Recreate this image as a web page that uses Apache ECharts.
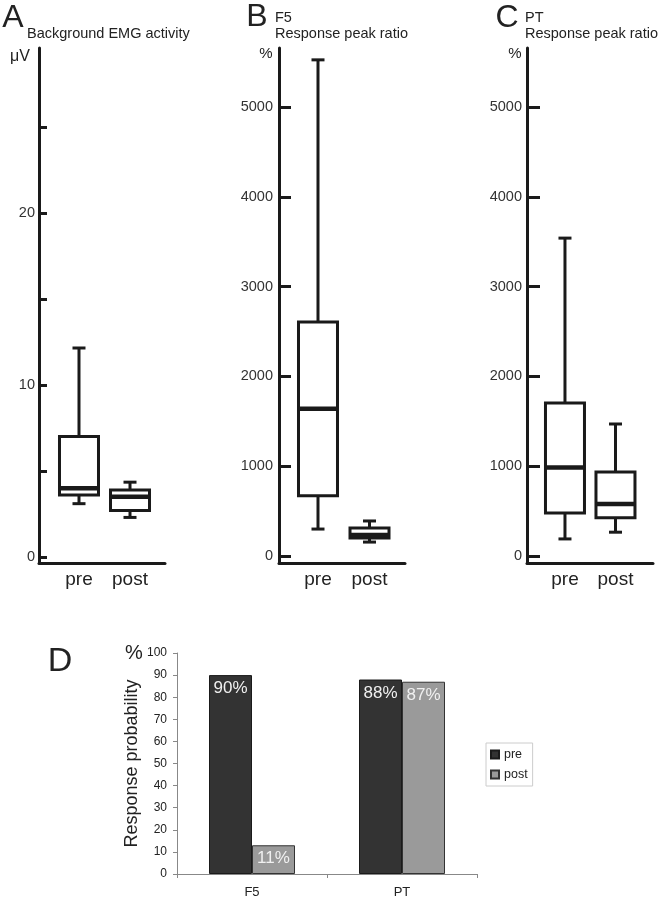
<!DOCTYPE html>
<html>
<head>
<meta charset="utf-8">
<script src="https://cdn.jsdelivr.net/npm/echarts@6/dist/echarts.min.js"></script>
<style>
html,body{margin:0;padding:0;background:#fff;}
#chart{width:659px;height:899px;}
</style>
</head>
<body>
<div id="chart"></div>
<script>
// ---- data ----
const categories = ['pre', 'post'];
// [min, Q1, median, Q3, max]
const emgPre = [3.1, 3.6, 4.0, 7.0, 12.15];
const emgPost = [2.3, 2.7, 3.5, 3.9, 4.35];
const f5Pre = [300, 670, 1640, 2605, 5525];
const f5Post = [155, 200, 235, 312, 390];
const ptPre = [190, 480, 985, 1705, 3540];
const ptPost = [265, 425, 580, 935, 1470];
const emgTicks = [0, 5, 10, 15, 20, 25];
const emgTickLabels = [0, 10, 20];
const ratioTicks = [0, 1000, 2000, 3000, 4000, 5000];
const ratioTickLabels = [0, 1000, 2000, 3000, 4000, 5000];

const probCategories = ['F5', 'PT'];
const probPre = [90, 88];
const probPost = [13, 87];
const probPreLabels = ['90%', '88%'];
const probPostLabels = ['11%', '87%'];
const seriesNames = ['pre', 'post'];

// ---- helpers ----
const INK = '#1a1a1a';
const FONT = '"Liberation Sans", Arial, sans-serif';

function boxRows(pre, post) {
  return [[0].concat(pre), [1].concat(post)];
}

function renderBox(params, api) {
  const x = api.value(0);
  const lo = api.coord([x, api.value(1)]);
  const q1 = api.coord([x, api.value(2)]);
  const md = api.coord([x, api.value(3)]);
  const q3 = api.coord([x, api.value(4)]);
  const hi = api.coord([x, api.value(5)]);
  const bw = 39, cw = 13, cx = lo[0];
  const ls = {stroke: INK, lineWidth: 3, fill: null};
  return {
    type: 'group',
    children: [
      {type: 'line', shape: {x1: cx, y1: hi[1], x2: cx, y2: q3[1]}, style: ls},
      {type: 'line', shape: {x1: cx, y1: q1[1], x2: cx, y2: lo[1]}, style: ls},
      {type: 'line', shape: {x1: cx - cw / 2, y1: hi[1], x2: cx + cw / 2, y2: hi[1]}, style: ls},
      {type: 'line', shape: {x1: cx - cw / 2, y1: lo[1], x2: cx + cw / 2, y2: lo[1]}, style: ls},
      {type: 'rect', shape: {x: cx - bw / 2, y: q3[1], width: bw, height: q1[1] - q3[1]},
        style: {fill: '#fff', stroke: INK, lineWidth: 3}},
      {type: 'line', shape: {x1: cx - bw / 2, y1: md[1], x2: cx + bw / 2, y2: md[1]},
        style: {stroke: INK, lineWidth: 4.5}}
    ]
  };
}

function boxX(idx, min, max) {
  return {
    type: 'value', gridIndex: idx, min: min, max: max,
    axisLine: {show: true, onZero: false, lineStyle: {color: INK, width: 3}},
    axisTick: {show: false},
    splitLine: {show: false},
    axisLabel: {
      show: true, customValues: [0, 1], margin: 7,
      formatter: v => categories[Math.round(v)],
      color: '#222', fontSize: 19, fontFamily: FONT
    }
  };
}

function boxY(idx, min, max, ticks, labels, tickLen, margin) {
  return {
    type: 'value', gridIndex: idx, min: min, max: max,
    axisLine: {show: true, onZero: false, lineStyle: {color: INK, width: 3}},
    axisTick: {show: true, inside: true, length: tickLen, customValues: ticks,
      lineStyle: {color: INK, width: 3}},
    splitLine: {show: false},
    axisLabel: {show: true, customValues: labels, margin: margin,
      formatter: v => String(v), padding: [0, 0, 4, 0],
      color: '#333', fontSize: 14.5, fontFamily: FONT}
  };
}

function txt(text, x, y, size, align) {
  return {
    type: 'text', x: x, y: y, silent: true,
    style: {text: text, font: size + 'px ' + FONT, fill: '#222',
      align: align || 'left', verticalAlign: 'middle'}
  };
}

const option = {
  animation: false,
  backgroundColor: '#fff',
  grid: [
    {left: 39, top: 48, width: 126, height: 515},
    {left: 279, top: 48, width: 126, height: 515},
    {left: 527, top: 48, width: 126, height: 515},
    {left: 177, top: 653, width: 300, height: 223}
  ],
  xAxis: [
    boxX(0, -0.784, 1.686),
    boxX(1, -0.757, 1.689),
    boxX(2, -0.752, 1.743),
    {
      type: 'category', gridIndex: 3, data: probCategories,
      axisLine: {show: true, lineStyle: {color: '#888', width: 1}},
      axisTick: {show: true, length: 4, lineStyle: {color: '#888'}},
      axisLabel: {color: '#222', fontSize: 13, margin: 12, fontFamily: FONT}
    }
  ],
  yAxis: [
    boxY(0, -0.349, 29.59, emgTicks, emgTickLabels, 8, 4),
    boxY(1, -78, 5657, ratioTicks, ratioTickLabels, 12, 6),
    boxY(2, -78, 5657, ratioTicks, ratioTickLabels, 13, 5),
    {
      type: 'value', gridIndex: 3, min: 0, max: 100, interval: 10,
      axisLine: {show: true, lineStyle: {color: '#888', width: 1}},
      axisTick: {show: true, length: 4, lineStyle: {color: '#888'}},
      splitLine: {show: false},
      axisLabel: {color: '#222', fontSize: 12, margin: 10, fontFamily: FONT},
      name: 'Response probability', nameLocation: 'middle', nameGap: 36,
      nameTextStyle: {fontSize: 18, color: '#222', fontFamily: FONT}
    }
  ],
  legend: {
    orient: 'vertical', left: 486, top: 743,
    data: seriesNames,
    icon: 'rect', itemWidth: 8, itemHeight: 8, itemGap: 7,
    padding: [5, 5, 5, 4],
    borderColor: '#ccc', borderWidth: 1, backgroundColor: '#fff',
    textStyle: {fontSize: 12.5, color: '#222', fontFamily: FONT}
  },
  series: [
    {type: 'custom', xAxisIndex: 0, yAxisIndex: 0, renderItem: renderBox,
      encode: {x: 0, y: [1, 2, 3, 4, 5]}, data: boxRows(emgPre, emgPost)},
    {type: 'custom', xAxisIndex: 1, yAxisIndex: 1, renderItem: renderBox,
      encode: {x: 0, y: [1, 2, 3, 4, 5]}, data: boxRows(f5Pre, f5Post)},
    {type: 'custom', xAxisIndex: 2, yAxisIndex: 2, renderItem: renderBox,
      encode: {x: 0, y: [1, 2, 3, 4, 5]}, data: boxRows(ptPre, ptPost)},
    {
      name: seriesNames[0], type: 'bar', xAxisIndex: 3, yAxisIndex: 3,
      data: probPre, barWidth: 43, barGap: '0%',
      itemStyle: {color: '#333333', borderColor: '#1a1a1a', borderWidth: 1},
      label: {show: true, position: 'insideTop', distance: 5, color: '#f0f0f0',
        fontSize: 17, fontFamily: FONT,
        formatter: p => probPreLabels[p.dataIndex]}
    },
    {
      name: seriesNames[1], type: 'bar', xAxisIndex: 3, yAxisIndex: 3,
      data: probPost, barWidth: 43, barGap: '0%',
      itemStyle: {color: '#9a9a9a', borderColor: '#333', borderWidth: 1},
      label: {show: true, position: 'insideTop', distance: 5, color: '#f0f0f0',
        fontSize: 17, fontFamily: FONT,
        formatter: p => probPostLabels[p.dataIndex]}
    }
  ],
  graphic: [
    txt('A', 13, 18, 32, 'center'),
    txt('Background EMG activity', 27, 34, 14.5),
    txt('μV', 20, 57, 16, 'center'),
    txt('B', 257, 17, 32, 'center'),
    txt('F5', 275, 18, 14.5),
    txt('Response peak ratio', 275, 34, 14.5),
    txt('%', 266, 54, 15, 'center'),
    txt('C', 507, 18, 32, 'center'),
    txt('PT', 525, 18, 14.5),
    txt('Response peak ratio', 525, 34, 14.5),
    txt('%', 515, 54, 15, 'center'),
    txt('D', 60, 662, 34, 'center'),
    txt('%', 134, 653, 20, 'center')
  ]
};

const chart = echarts.init(document.getElementById('chart'), null, {renderer: 'canvas'});
chart.setOption(option);
</script>
</body>
</html>
